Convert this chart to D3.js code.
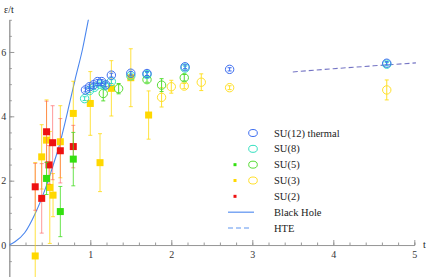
<!DOCTYPE html>
<html>
<head>
<meta charset="utf-8">
<script src="https://cdn.jsdelivr.net/npm/d3@7"></script>
<style>
  body { margin: 0; background: #fff; }
  svg { display: block; font-family: "Liberation Serif", "DejaVu Serif", serif; }
</style>
</head>
<body>
<svg width="429" height="277"></svg>
<script>
// data: [t, e/t, error]
var su12 = [[0.94,4.82,0.06],[0.99,4.92,0.06],[1.04,4.98,0.06],[1.09,5.08,0.06],[1.14,5.08,0.06],
            [1.19,4.98,0.06],[1.26,5.28,0.06],[1.50,5.34,0.06],[1.70,5.33,0.06],[2.17,5.54,0.06],
            [2.72,5.46,0.05],[4.66,5.65,0.05]];
var su8 = [[0.93,4.55,0.06],[0.99,4.80,0.06],[1.05,4.90,0.06],[1.12,5.00,0.06],[1.18,4.95,0.06],
           [1.26,5.08,0.06],[1.50,5.26,0.06],[1.70,5.30,0.06],[2.17,5.50,0.06],[4.66,5.62,0.05]];
var su5open = [[1.16,4.71,0.23],[1.35,4.86,0.16],[1.70,5.14,0.08],[1.88,4.97,0.2],[2.16,5.20,0.1]];
var su3open = [[1.88,4.59,0.3],[2.00,4.92,0.2],[2.16,4.94,0.08],[2.37,5.06,0.26],[2.72,4.89,0.06],[4.66,4.82,0.31]];
var su5sq = [[0.46,2.07,0.5],[0.63,1.04,0.78],[0.79,2.67,0.83]];
var su3sq = [[0.32,-0.34,2.9],[0.40,2.74,1.0],[0.46,3.26,1.25],[0.50,1.79,1.74],[0.54,1.55,0.67],
             [0.63,3.21,1.12],[0.79,4.09,1.0],[1.00,4.40,0.99],[1.12,2.56,0.9],[1.26,4.87,0.86],
             [1.50,5.20,0.9],[1.72,4.04,0.75]];
var su2sq = [[0.32,1.81,0.73],[0.40,1.45,1.08],[0.46,3.52,0.95],[0.49,2.49,0.6],[0.535,3.18,1.15],
             [0.63,2.93,1.0],[0.79,3.06,0.66]];
var blackHole = [[0,0],[0.07,0.1],[0.19,0.38],[0.32,0.98],[0.40,1.45],[0.48,2.0],[0.55,2.55],
                 [0.61,3.03],[0.75,4.47],[0.81,5.12],[0.905,6.1],[0.98,7.05],[1.0,7.3]];
var hte = [[3.5,5.38],[4.0,5.48],[4.5,5.57],[5.02,5.66]];
var xMajor = [1, 2, 3, 4, 5];
var yMajor = [0, 2, 4, 6];
var legendItems = ["SU(12) thermal", "SU(8)", "SU(5)", "SU(3)", "SU(2)", "Black Hole", "HTE"];

var svg = d3.select("svg");

var x = d3.scaleLinear().domain([0, 5]).range([9.3, 414.3]);
var y = d3.scaleLinear().domain([-1, 7]).range([277.2, 19.8]);

// axes, ticks point inward like the original
function styleAxis(g) {
    g.select(".domain").attr("stroke", "#999");
    g.selectAll(".tick line").attr("stroke", "#999");
    g.selectAll(".tick text").attr("fill", "#333").style("font-size", "10px")
        .style("font-family", "Liberation Serif, serif");
}
svg.append("g").attr("transform", "translate(0," + y(0) + ")")
    .call(d3.axisBottom(x).tickValues(d3.range(0.2, 5.01, 0.2)).tickSize(-2.5).tickFormat(""))
    .call(styleAxis);
svg.append("g").attr("transform", "translate(0," + y(0) + ")")
    .call(d3.axisBottom(x).tickValues(xMajor).tickSize(-5).tickSizeOuter(0).tickPadding(6).tickFormat(d3.format("d")))
    .call(styleAxis);
svg.append("g").attr("transform", "translate(" + x(0) + ",0)")
    .call(d3.axisLeft(y).tickValues(d3.range(-1, 7.01, 0.5)).tickSize(-2.5).tickSizeOuter(0).tickFormat(""))
    .call(styleAxis);
svg.append("g").attr("transform", "translate(" + x(0) + ",0)")
    .call(d3.axisLeft(y).tickValues(yMajor).tickSize(-5).tickSizeOuter(0).tickPadding(3).tickFormat(d3.format("d")))
    .call(styleAxis);

svg.append("text").attr("x", 4).attr("y", 13).attr("fill", "#222").style("font-size", "10px").text("ε/t");
svg.append("text").attr("x", 423).attr("y", 248).attr("fill", "#222").style("font-size", "10px").text("t");

var plot = svg.append("g");
svg.append("defs").append("clipPath").attr("id", "clip")
    .append("rect").attr("x", x(0)).attr("y", y(7)).attr("width", 420).attr("height", 260);

// theory curves
var line = d3.line().x(function (d) { return x(d[0]); }).y(function (d) { return y(d[1]); });
plot.append("path").datum(blackHole).attr("clip-path", "url(#clip)")
    .attr("d", line.curve(d3.curveMonotoneX)).attr("fill", "none")
    .attr("stroke", "#4a86ee").attr("stroke-width", 1.1);
plot.append("path").datum(hte).attr("d", line.curve(d3.curveLinear))
    .attr("fill", "none").attr("stroke", "#7474c4").attr("stroke-width", 1.1)
    .attr("stroke-dasharray", "5,3");

function errorBars(data, color, op) {
    var g = plot.append("g").attr("stroke", color).attr("stroke-opacity", op).attr("stroke-width", 1);
    g.selectAll("line.v").data(data).enter().append("line")
        .attr("x1", function (d) { return x(d[0]); }).attr("x2", function (d) { return x(d[0]); })
        .attr("y1", function (d) { return y(d[1] - d[2]); }).attr("y2", function (d) { return y(d[1] + d[2]); });
    [-1, 1].forEach(function (s) {
        g.selectAll(null).data(data).enter().append("line")
            .attr("x1", function (d) { return x(d[0]) - 2; }).attr("x2", function (d) { return x(d[0]) + 2; })
            .attr("y1", function (d) { return y(d[1] + s * d[2]); }).attr("y2", function (d) { return y(d[1] + s * d[2]); });
    });
}

function squares(data, color, barColor, op) {
    errorBars(data, barColor, op);
    plot.append("g").selectAll("rect").data(data).enter().append("rect")
        .attr("x", function (d) { return x(d[0]) - 3.5; })
        .attr("y", function (d) { return y(d[1]) - 3.5; })
        .attr("width", 7).attr("height", 7).attr("fill", color);
}

function circles(data, color) {
    errorBars(data, color, 1);
    plot.append("g").selectAll("circle").data(data).enter().append("circle")
        .attr("cx", function (d) { return x(d[0]); })
        .attr("cy", function (d) { return y(d[1]); })
        .attr("r", 4.2).attr("fill", "none").attr("stroke", color).attr("stroke-width", 1);
}

squares(su3sq, "#ffd800", "#ffd800", 0.75);
squares(su2sq, "#ee1111", "#ff5555", 0.6);
squares(su5sq, "#33e010", "#44dd22", 0.8);
circles(su3open, "#ffe02a");
circles(su5open, "#55dd33");
circles(su8, "#33e0c0");
circles(su12, "#3b6cf0");

// legend
var ly = d3.scalePoint().domain(legendItems).range([133, 228]);
var lg = svg.append("g");
lg.selectAll("text").data(legendItems).enter().append("text")
    .attr("x", 274).attr("y", function (d) { return ly(d) + 3.5; })
    .attr("fill", "#222").style("font-size", "10.5px").text(function (d) { return d; });
var openCols = { "SU(12) thermal": "#3b6cf0", "SU(8)": "#33e0c0", "SU(5)": "#55dd33", "SU(3)": "#ffe02a" };
var sqCols = { "SU(5)": "#33e010", "SU(3)": "#ffd800", "SU(2)": "#ee1111" };
Object.keys(openCols).forEach(function (k) {
    lg.append("ellipse").attr("cx", 253).attr("cy", ly(k)).attr("rx", 4.3).attr("ry", 3.5)
        .attr("fill", "none").attr("stroke", openCols[k]).attr("stroke-width", 1);
});
Object.keys(sqCols).forEach(function (k) {
    lg.append("rect").attr("x", 233.5).attr("y", ly(k) - 1.5).attr("width", 3).attr("height", 3)
        .attr("fill", sqCols[k]);
});
lg.append("line").attr("x1", 228).attr("x2", 254).attr("y1", ly("Black Hole")).attr("y2", ly("Black Hole"))
    .attr("stroke", "#4a86ee").attr("stroke-width", 1.1);
lg.append("line").attr("x1", 228).attr("x2", 251).attr("y1", ly("HTE")).attr("y2", ly("HTE"))
    .attr("stroke", "#5f96f0").attr("stroke-width", 1.1).attr("stroke-dasharray", "5,3");
</script>
</body>
</html>
